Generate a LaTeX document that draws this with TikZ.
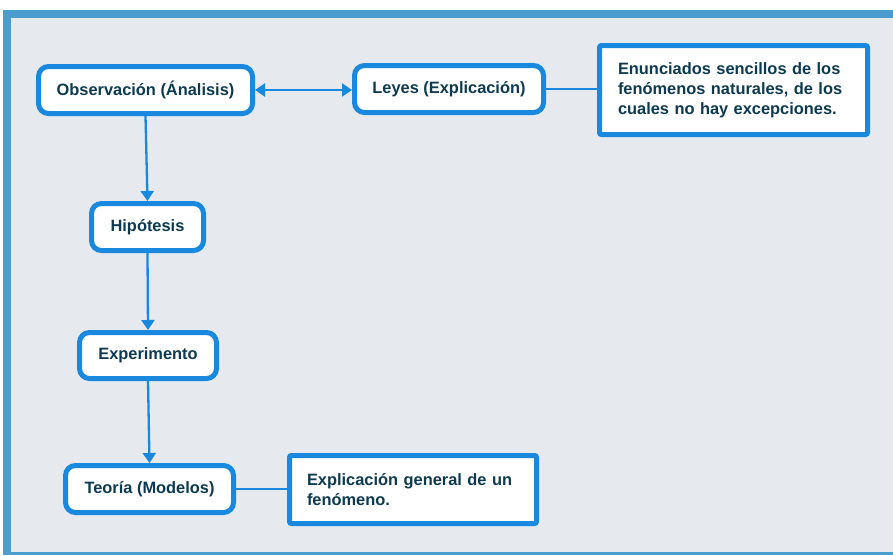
\documentclass[tikz,border=0pt]{standalone}
\usepackage{fontspec}
\setmainfont{Liberation Sans}
\usetikzlibrary{arrows.meta}

\definecolor{nodeblue}{RGB}{24,137,222}
\definecolor{textnavy}{RGB}{13,58,80}
\definecolor{frameblue}{RGB}{74,157,204}
\definecolor{bggray}{RGB}{230,233,237}

\tikzset{
  lbl/.style={font=\fontsize{16.4}{20}\selectfont\bfseries, text=textnavy},
  stepbox/.style={lbl, draw=nodeblue, line width=5pt, rounded corners=10pt,
    fill=white, inner sep=0pt, align=center},
  notebox/.style={lbl, draw=nodeblue, line width=5pt, rounded corners=2pt,
    fill=white, inner sep=0pt, align=left},
  flow/.style={draw=nodeblue, line width=2.3pt,
    -{Triangle[length=10pt,width=13pt]}},
  both/.style={draw=nodeblue, line width=2.3pt,
    {Triangle[length=10pt,width=13pt]}-{Triangle[length=10pt,width=13pt]}},
  link/.style={draw=nodeblue, line width=1.4pt},
}

\begin{document}
\begin{tikzpicture}[x=1pt, y=-1pt]
  \useasboundingbox (0,0) rectangle (893,555);
  \clip (0,0) rectangle (893,555);
  \fill[white] (0,0) rectangle (893,555);

  % panel with its blue frame (left, top and bottom edges only show)
  \fill[bggray] (11,18) rectangle (893,552);
  \fill[frameblue] (3,10) rectangle (893,18);
  \fill[frameblue] (3,10) rectangle (11,555);
  \fill[frameblue] (3,552) rectangle (893,555);

  % steps of the method
  \node[stepbox, minimum width=214pt, minimum height=47pt] (obs) at (145.5,90) {Observación (Ánalisis)};
  \node[stepbox, minimum width=189pt, minimum height=47pt] (leyes) at (449,89) {Leyes (Explicación)};
  \node[stepbox, minimum width=112pt, minimum height=47pt] (hip) at (147.5,227) {Hipótesis};
  \node[stepbox, minimum width=137pt, minimum height=46pt] (exp) at (148,355.5) {Experimento};
  \node[stepbox, minimum width=168pt, minimum height=47pt] (teo) at (149.5,489) {Teoría (Modelos)};

  % notes
  \node[notebox, minimum width=268pt, minimum height=89pt, text width=231pt] (enun) at (733.5,90)
    {Enunciados sencillos de los\\fenómenos naturales, de los\\cuales no hay excepciones.};
  \node[notebox, minimum width=247pt, minimum height=68pt, text width=212pt] (expl) at (413,489.5)
    {Explicación general de un\\fenómeno.};

  % connectors
  \draw[both] (obs.east) -- (obs.east -| leyes.west);
  \draw[flow] (obs.south) -- (hip.north);
  \draw[flow] (hip.south) -- (exp.north);
  \draw[flow] (exp.south) -- (teo.north);
  \draw[link] (leyes.east) -- (leyes.east -| enun.west);
  \draw[link] (teo.east) -- (teo.east -| expl.west);
\end{tikzpicture}
\end{document}
